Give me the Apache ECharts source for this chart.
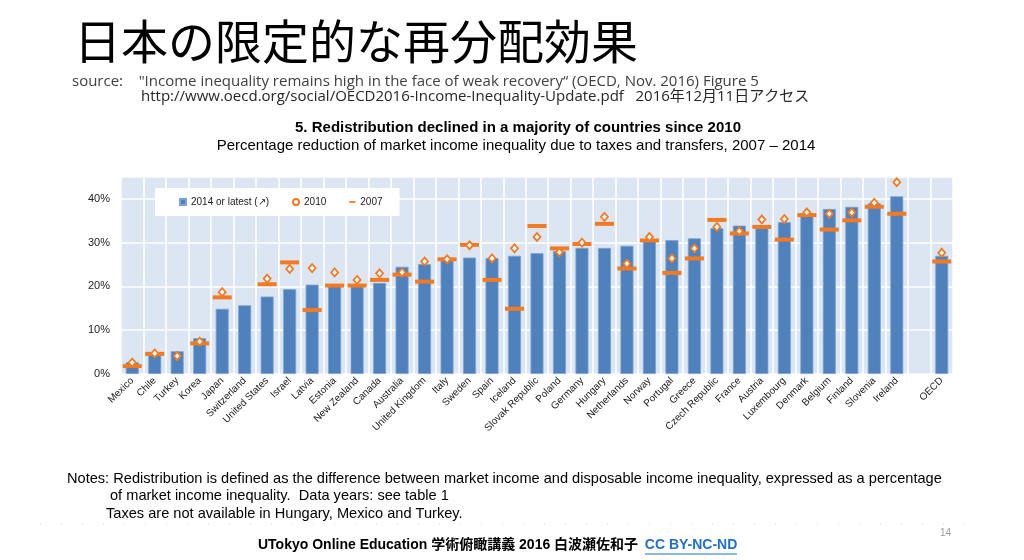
<!DOCTYPE html>
<html>
<head>
<meta charset="utf-8">
<title>日本の限定的な再分配効果</title>
<script src="https://cdn.jsdelivr.net/npm/echarts@6/dist/echarts.min.js"></script>
<style>
  html, body { margin: 0; padding: 0; background: #fff; }
  #main { width: 1024px; height: 560px; }
</style>
</head>
<body>
<div id="main"></div>
<script>
// countries, with an empty slot before the OECD average
var categories = ['Mexico', 'Chile', 'Turkey', 'Korea', 'Japan', 'Switzerland', 'United States',
  'Israel', 'Latvia', 'Estonia', 'New Zealand', 'Canada', 'Australia', 'United Kingdom', 'Italy',
  'Sweden', 'Spain', 'Iceland', 'Slovak Republic', 'Poland', 'Germany', 'Hungary', 'Netherlands',
  'Norway', 'Portugal', 'Greece', 'Czech Republic', 'France', 'Austria', 'Luxembourg', 'Denmark',
  'Belgium', 'Finland', 'Slovenia', 'Ireland', '', 'OECD'];

// % reduction of market income inequality
var latest = [2.7, 4.5, 5.2, 8.2, 14.9, 15.7, 17.7, 19.4, 20.4, 20.2, 20.2, 20.8, 24.5, 25.1, 26.1,
  26.6, 26.5, 27.0, 27.6, 28.1, 28.8, 28.8, 29.3, 30.4, 30.6, 31.0, 33.3, 33.9, 33.3, 34.7, 36.7,
  37.7, 38.2, 39.0, 40.6, null, 27.0];
var y2010 = [2.6, 4.7, 4.1, 7.4, 18.7, null, 21.8, 24.0, 24.2, 23.2, 21.5, 23.0, 23.2, 25.7, 26.2,
  29.4, 26.4, 28.7, 31.3, 27.8, 30.0, 35.9, 25.2, 31.3, 26.4, 28.7, 33.6, 32.6, 35.3, 35.4, 36.9,
  36.6, 36.9, 39.1, 43.8, null, 27.7];
var y2007 = [1.8, 4.6, null, 7.0, 17.5, null, 20.5, 25.5, 14.6, 20.2, 20.2, 21.5, 22.7, 21.1, 26.2,
  29.5, 21.5, 14.9, 33.8, 28.7, 29.7, 34.3, 24.1, 30.5, 23.1, 26.4, 35.2, 32.1, 33.6, 30.7, 36.3,
  33.0, 35.1, 38.2, 36.6, null, 25.7];

var blue = '#4f81bd';
var orange = '#f47a22';
var sans = '"Liberation Sans", Arial, sans-serif';

var chart = echarts.init(document.getElementById('main'));

var option = {
  backgroundColor: '#fff',
  animation: false,
  textStyle: { fontFamily: sans },
  grid: {
    left: 121, right: 71, top: 177, bottom: 186,
    show: true, backgroundColor: '#dce6f2', borderWidth: 0
  },
  legend: {
    left: 155, top: 188,
    backgroundColor: '#fff',
    padding: [9, 17, 9, 24],
    itemGap: 23,
    itemWidth: 6, itemHeight: 6,
    textStyle: { fontSize: 10, color: '#222', fontFamily: sans },
    data: [
      { name: '2014 or latest (↗)', icon: 'rect' },
      { name: '2010', icon: 'circle' },
      { name: '2007', icon: 'path://M0,0h10v3h-10z' }
    ]
  },
  xAxis: {
    type: 'category',
    data: categories,
    axisLine: { show: false },
    axisTick: { show: false },
    splitLine: { show: true, interval: 0, lineStyle: { color: '#fff', width: 1.5 } },
    axisLabel: { interval: 0, rotate: 45, fontSize: 10, color: '#1a1a1a', margin: 5 }
  },
  yAxis: {
    type: 'value',
    min: 0, max: 45, interval: 10,
    axisLine: { show: false },
    axisTick: { show: false },
    splitLine: { lineStyle: { color: '#fff', width: 1.5 } },
    axisLabel: { formatter: '{value}%', fontSize: 11, color: '#222', margin: 11, showMaxLabel: false }
  },
  series: [
    {
      name: '2014 or latest (↗)',
      type: 'bar',
      data: latest,
      barWidth: 13,
      itemStyle: { color: blue, borderColor: '#7ea3d2', borderWidth: 0.8 }
    },
    {
      name: '2007',
      type: 'scatter',
      data: y2007,
      symbol: 'rect',
      symbolSize: [19, 4],
      itemStyle: { color: orange, opacity: 1 }
    },
    {
      name: '2010',
      type: 'scatter',
      data: y2010,
      symbol: 'diamond',
      symbolSize: [7, 8],
      itemStyle: { color: '#fff', borderColor: orange, borderWidth: 1.8, opacity: 1 }
    }
  ],
  graphic: [
    { type: 'text', left: 74, top: 18,
      style: { text: '日本の限定的な再分配効果', font: 'normal 47px "Noto Sans CJK JP"', fill: '#000' } },
    { type: 'text', left: 72, top: 74,
      style: { text: 'source:    "Income inequality remains high in the face of weak recovery“ (OECD, Nov. 2016) Figure 5',
        font: '15px "Open Sans", "Noto Sans CJK JP"', fill: '#404040' } },
    { type: 'text', left: 141, top: 89,
      style: { text: 'http://www.oecd.org/social/OECD2016-Income-Inequality-Update.pdf   2016年12月11日アクセス',
        font: '15px "Open Sans", "Noto Sans CJK JP"', fill: '#262626' } },
    { type: 'text', x: 518, y: 120,
      style: { text: '5. Redistribution declined in a majority of countries since 2010',
        font: 'bold 15px ' + sans, fill: '#000', align: 'center' } },
    { type: 'text', x: 516, y: 138,
      style: { text: 'Percentage reduction of market income inequality due to taxes and transfers, 2007 – 2014',
        font: '15px ' + sans, fill: '#000', align: 'center' } },
    { type: 'text', left: 67, top: 471,
      style: { text: 'Notes: Redistribution is defined as the difference between market income and disposable income inequality, expressed as a percentage',
        font: '14.6px ' + sans, fill: '#000' } },
    { type: 'text', left: 110, top: 488,
      style: { text: 'of market income inequality.  Data years: see table 1', font: '14.6px ' + sans, fill: '#000' } },
    { type: 'text', left: 106, top: 506,
      style: { text: 'Taxes are not available in Hungary, Mexico and Turkey.', font: '14.6px ' + sans, fill: '#000' } },
    { type: 'line', shape: { x1: 40, y1: 524, x2: 985, y2: 524 },
      style: { stroke: '#d8d8d8', lineWidth: 1, lineDash: [1, 20] } },
    { type: 'text', left: 940, top: 528,
      style: { text: '14', font: '10px ' + sans, fill: '#999' } },
    { type: 'text', left: 258, top: 538,
      style: {
        text: '{a|UTokyo Online Education 学術俯瞰講義 2016 白波瀬佐和子}  {b|CC BY-NC-ND}',
        rich: {
          a: { font: 'bold 14px "Liberation Sans", "Noto Sans CJK JP"', fill: '#000' },
          b: { font: 'bold 14px "Liberation Sans"', fill: '#1f6fd0' }
        }
      } },
    { type: 'line', shape: { x1: 645, y1: 554, x2: 737, y2: 554 },
      style: { stroke: '#1f6fd0', lineWidth: 1 } }
  ]
};

chart.setOption(option);
</script>
</body>
</html>
